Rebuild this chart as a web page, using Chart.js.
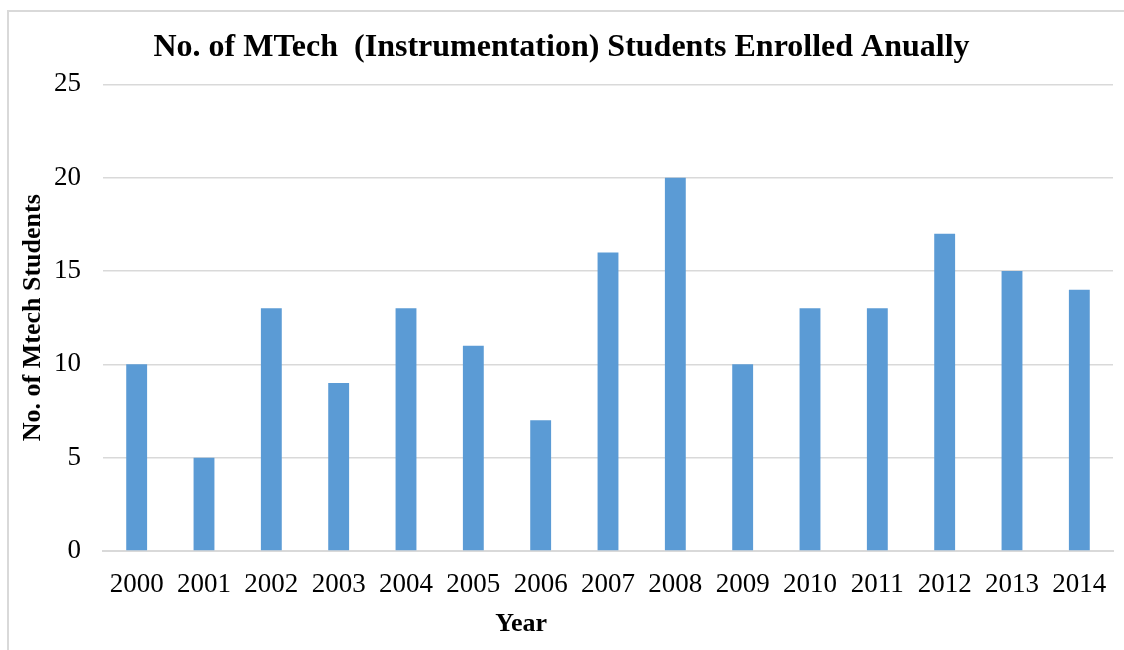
<!DOCTYPE html>
<html lang="en">
<head>
    <meta charset="UTF-8" />
    <title>MTech Enrolment</title>
    <script src="https://cdn.jsdelivr.net/npm/chart.js"></script>
    <style>
        body { margin: 0; background: #fff; }
        #wrap { position: relative; width: 1124px; height: 650px; overflow: hidden; }
        #frame { position: absolute; left: 7px; top: 10px; width: 1130px; height: 660px; border: 2px solid #d9d9d9; box-sizing: border-box; }
        #chart { position: absolute; left: 0; top: 0; }
    </style>
</head>
<body>
    <div id="wrap">
        <div id="frame"></div>
        <canvas id="chart" width="1124" height="650"></canvas>
    </div>

    <script>
        const years = ["2000", "2001", "2002", "2003", "2004", "2005", "2006", "2007",
                       "2008", "2009", "2010", "2011", "2012", "2013", "2014"];
        const students = [10, 5, 13, 9, 13, 11, 7, 16, 20, 10, 13, 13, 17, 15, 14];
        const yTicks = [0, 5, 10, 15, 20, 25];

        const serif = "'Liberation Serif', 'Times New Roman', serif";

        // x axis title sits left of centre in the original, so draw it by hand
        const xTitle = {
            id: 'xTitle',
            afterDraw(chart) {
                const { ctx, chartArea } = chart;
                ctx.save();
                ctx.font = "bold 26px " + serif;
                ctx.fillStyle = '#000';
                ctx.textAlign = 'center';
                ctx.textBaseline = 'middle';
                ctx.fillText('Year', chartArea.left + chartArea.width * 0.414, 624);
                ctx.restore();
            }
        };

        new Chart(document.getElementById("chart"), {
            type: 'bar',
            data: {
                labels: years,
                datasets: [{
                    label: 'No. of Mtech Students',
                    data: students,
                    backgroundColor: '#5b9bd5',
                    categoryPercentage: 1,
                    barPercentage: 0.31
                }]
            },
            options: {
                responsive: false,
                animation: false,
                layout: { padding: { left: 10, right: 11, top: 0, bottom: 0 } },
                plugins: {
                    legend: { display: false },
                    tooltip: { enabled: false },
                    title: {
                        display: true,
                        text: 'No. of MTech  (Instrumentation) Students Enrolled Anually',
                        color: '#000',
                        font: { family: serif, size: 32, weight: 'bold' },
                        padding: { top: 29, bottom: 17 }
                    }
                },
                scales: {
                    x: {
                        grid: { display: false },
                        border: { color: '#d9d9d9', width: 2 },
                        ticks: { color: '#000', font: { family: serif, size: 27 }, padding: 10, maxRotation: 0 },
                        afterFit: (scale) => { scale.height = 99; }
                    },
                    y: {
                        min: 0,
                        max: 25,
                        afterBuildTicks: (scale) => { scale.ticks = yTicks.map(v => ({ value: v })); },
                        grid: { color: '#d9d9d9', lineWidth: 1.5, drawTicks: false },
                        border: { display: false },
                        ticks: { color: '#000', font: { family: serif, size: 27 }, padding: 22 },
                        title: {
                            display: true,
                            text: 'No. of Mtech Students',
                            color: '#000',
                            font: { family: serif, size: 26, weight: 'bold' },
                            padding: { top: 8, bottom: 0 }
                        },
                        afterFit: (scale) => { scale.width = 93; }
                    }
                }
            },
            plugins: [xTitle]
        });
    </script>
</body>
</html>
